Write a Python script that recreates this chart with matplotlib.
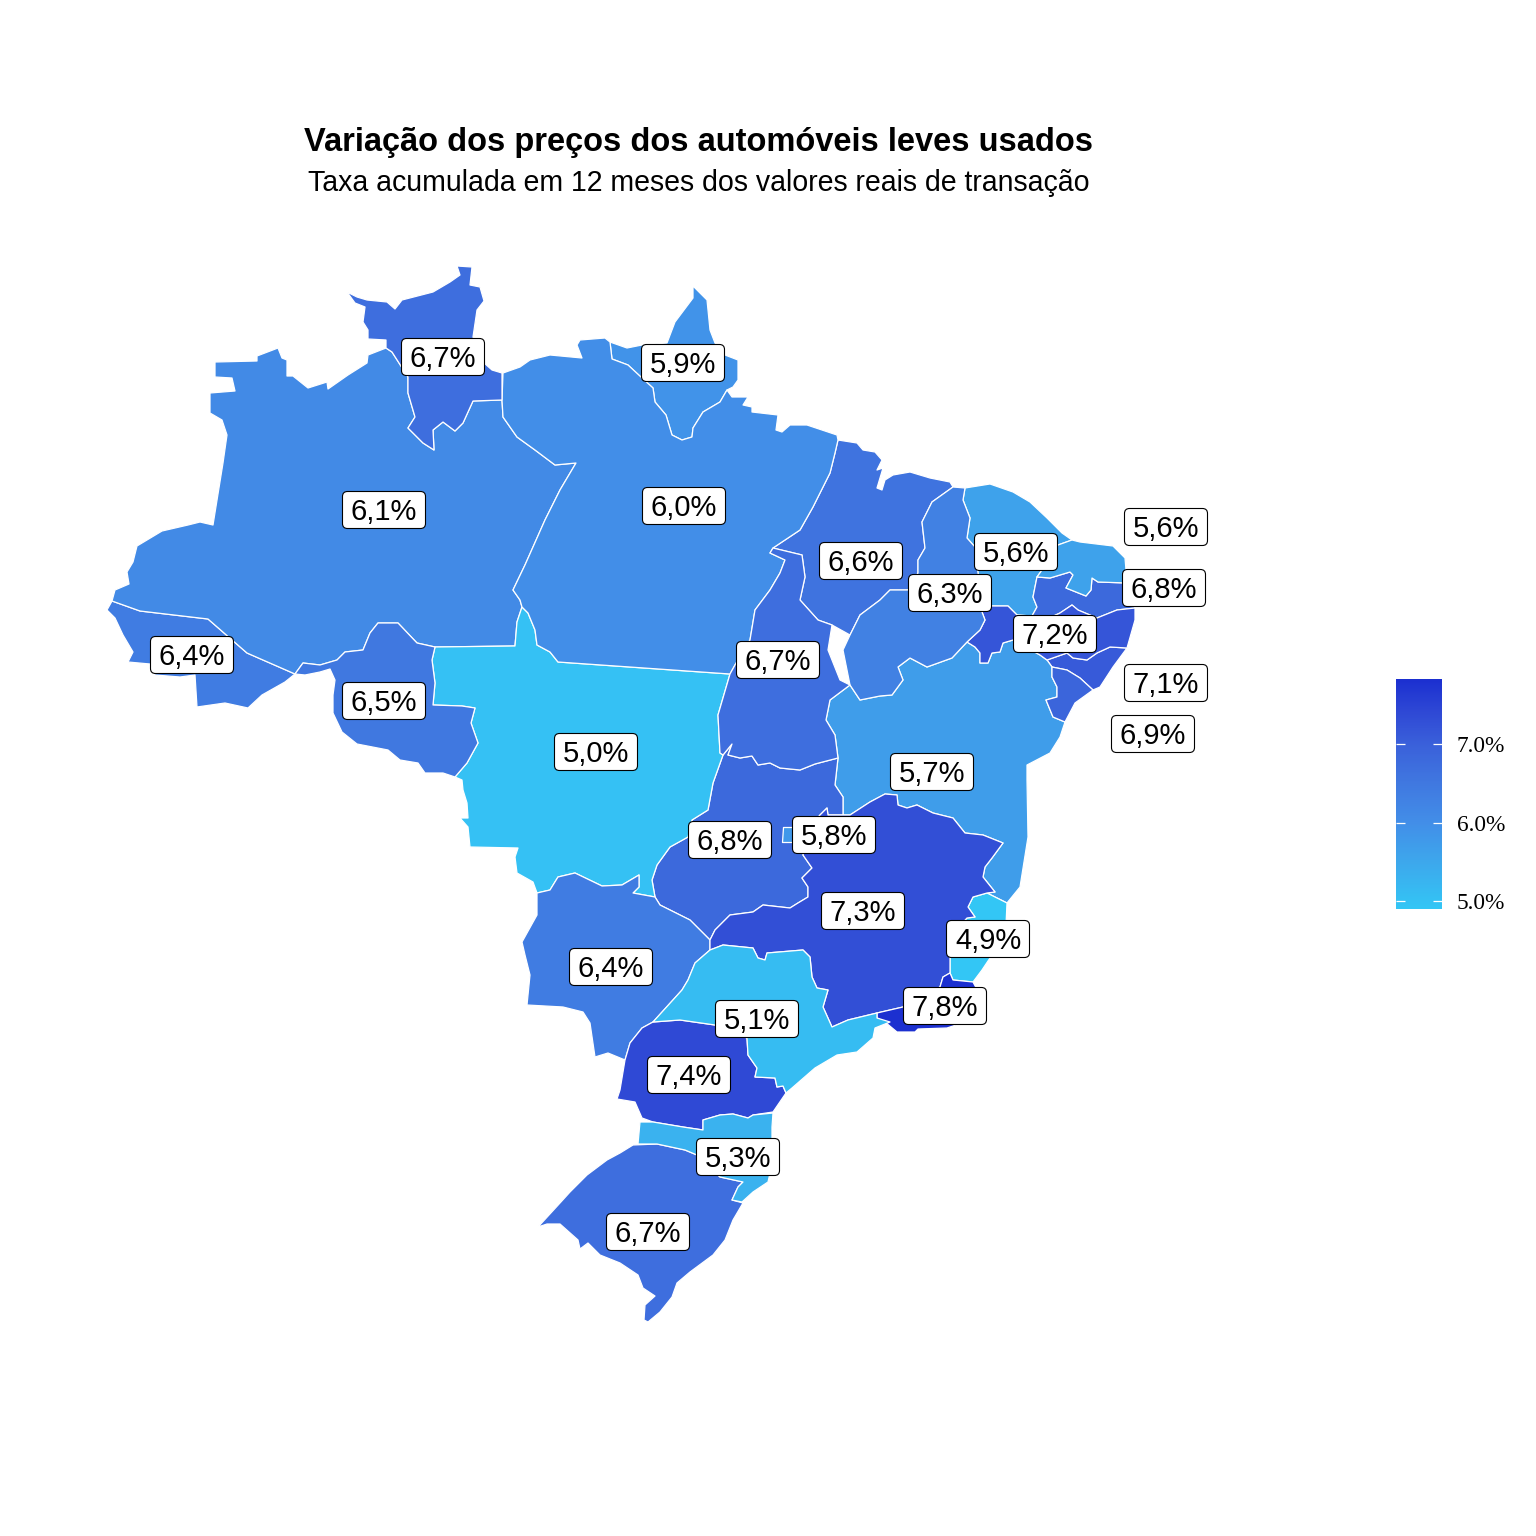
import matplotlib
matplotlib.use('Agg')
import matplotlib.pyplot as plt
from matplotlib.cm import ScalarMappable
from matplotlib.colors import LinearSegmentedColormap, Normalize
from matplotlib.patches import FancyBboxPatch

RR = [(347,292),(357,297),(367,300),(387,302),(395,309),(402,300),(433,292),(450,282),(460,275),(457,266),(472,267),(470,285),(480,287),(484,301),(477,310),(473,337),(483,362),(492,370),(502,373),(502,400),(473,401),(463,423),(455,431),(443,422),(433,430),(434,450),(423,443),(408,428),(415,417),(408,393),(408,377),(392,352),(386,348),(386,340),(368,339),(368,330),(363,322),(365,307),(355,303)]
AM = [(215,362),(257,361),(257,356),(278,348),(282,358),(287,360),(287,376),(293,376),(308,388),(327,382),(328,389),(348,375),(367,363),(368,355),(386,348),(392,352),(408,377),(408,393),(415,417),(408,428),(423,443),(434,450),(433,430),(443,422),(455,431),(463,423),(473,401),(502,400),(503,417),(517,437),(535,450),(555,465),(576,463),(560,490),(545,520),(525,565),(513,590),(520,600),(522,607),(517,622),(515,646),(435,647),(417,643),(398,623),(378,623),(370,633),(363,650),(345,652),(337,660),(320,665),(303,663),(295,674),(247,653),(208,619),(140,611),(112,601),(115,590),(129,584),(127,572),(133,562),(137,546),(162,531),(188,525),(200,522),(213,525),(223,463),(227,435),(222,420),(210,413),(210,393),(235,391),(232,378),(215,377)]
AC = [(107,610),(112,601),(140,611),(208,619),(247,653),(295,674),(285,682),(262,695),(248,708),(225,703),(197,707),(195,675),(180,677),(155,675),(150,664),(128,662),(133,652),(123,635),(115,618)]
RO = [(295,674),(303,663),(320,665),(337,660),(345,652),(363,650),(370,633),(378,623),(398,623),(417,643),(435,647),(432,660),(435,683),(433,705),(462,706),(475,708),(471,723),(478,743),(467,763),(455,777),(443,773),(425,773),(418,763),(400,760),(388,750),(357,744),(342,732),(333,713),(333,695),(335,680),(330,669),(320,672),(305,675)]
MT = [(435,647),(515,646),(517,622),(522,607),(528,613),(535,630),(537,645),(550,652),(558,662),(730,674),(718,715),(720,753),(723,755),(713,783),(708,810),(692,820),(688,837),(670,847),(657,865),(652,880),(655,897),(633,893),(639,887),(639,875),(622,885),(602,886),(575,873),(558,877),(550,890),(537,893),(533,882),(517,873),(515,857),(518,848),(470,847),(468,827),(460,818),(468,818),(467,803),(463,790),(462,780),(455,777),(467,763),(478,743),(471,723),(475,708),(462,706),(433,705),(435,683),(432,660)]
PA = [(503,373),(520,367),(530,360),(550,355),(582,358),(577,345),(580,340),(605,338),(610,342),(612,359),(628,365),(642,378),(653,388),(655,402),(666,415),(672,435),(682,440),(692,437),(693,428),(703,412),(720,402),(727,390),(732,397),(748,397),(743,405),(752,407),(752,412),(778,415),(776,430),(782,432),(790,425),(807,425),(837,435),(838,440),(835,453),(830,473),(823,487),(813,507),(800,530),(773,548),(770,553),(785,560),(780,573),(770,590),(755,610),(750,640),(735,665),(730,674),(558,662),(550,652),(537,645),(535,630),(528,613),(522,607),(520,600),(513,590),(525,565),(545,520),(560,490),(576,463),(555,465),(535,450),(517,437),(503,417),(502,400)]
AP = [(610,342),(627,348),(642,345),(667,343),(675,322),(693,298),(693,286),(707,300),(710,330),(715,343),(725,355),(738,360),(738,380),(733,387),(727,390),(720,402),(703,412),(693,428),(692,437),(682,440),(672,435),(666,415),(655,402),(653,388),(642,378),(628,365),(612,359)]
MA = [(838,440),(857,443),(863,450),(875,452),(882,460),(877,470),(883,468),(877,488),(882,490),(885,480),(893,475),(910,472),(930,478),(950,482),(953,487),(932,502),(922,522),(925,548),(918,560),(918,573),(908,590),(890,590),(880,600),(860,615),(850,635),(832,625),(818,620),(800,600),(805,577),(802,555),(773,548),(800,530),(813,507),(823,487),(830,473),(835,453)]
TO = [(773,548),(802,555),(805,577),(800,600),(818,620),(832,625),(828,650),(840,680),(850,685),(830,700),(826,720),(835,735),(838,758),(815,764),(800,770),(780,768),(770,763),(758,765),(752,756),(740,758),(728,755),(732,744),(723,755),(720,753),(718,715),(730,674),(735,665),(750,640),(755,610),(770,590),(780,573),(785,560),(770,553)]
GO = [(732,744),(728,755),(740,758),(752,756),(758,765),(770,763),(780,768),(800,770),(815,764),(838,758),(835,785),(843,797),(843,815),(828,815),(827,808),(820,815),(812,825),(803,855),(812,868),(802,878),(808,887),(808,897),(798,903),(790,908),(763,905),(753,912),(730,915),(715,930),(710,940),(690,920),(660,905),(655,897),(652,880),(657,865),(670,847),(688,837),(692,820),(708,810),(713,783),(723,755)]
PI = [(953,487),(965,488),(963,500),(970,518),(967,538),(975,547),(980,590),(985,606),(982,612),(985,620),(980,630),(967,642),(952,658),(927,667),(910,658),(898,667),(903,680),(892,695),(880,696),(860,700),(850,685),(843,650),(850,635),(860,615),(880,600),(890,590),(908,590),(918,573),(918,560),(925,548),(922,522),(932,502)]
CE = [(965,488),(990,484),(1013,492),(1030,502),(1047,518),(1062,533),(1072,540),(1058,545),(1042,570),(1037,577),(1033,597),(1037,607),(1032,616),(1017,615),(1008,606),(993,606),(985,606),(980,590),(975,547),(967,538),(970,518),(963,500)]
RN = [(1072,540),(1080,542),(1113,546),(1125,558),(1126,570),(1127,583),(1098,582),(1092,578),(1091,590),(1086,596),(1076,592),(1066,588),(1073,575),(1070,572),(1050,578),(1037,577),(1042,570),(1058,545)]
PB = [(1037,577),(1050,578),(1070,572),(1073,575),(1066,588),(1076,592),(1086,596),(1091,590),(1092,578),(1098,582),(1127,583),(1135,608),(1117,610),(1097,618),(1078,610),(1072,605),(1060,613),(1045,620),(1032,616),(1037,607),(1033,597)]
PE = [(982,612),(985,606),(993,606),(1008,606),(1017,615),(1032,616),(1045,620),(1060,613),(1072,605),(1078,610),(1097,618),(1117,610),(1135,608),(1135,620),(1127,648),(1110,647),(1097,653),(1087,660),(1073,658),(1067,653),(1047,660),(1040,655),(1013,640),(1003,643),(1000,652),(992,653),(988,663),(980,663),(980,653),(975,647),(967,642),(980,630),(985,620)]
AL = [(1047,660),(1067,653),(1073,658),(1087,660),(1097,653),(1110,647),(1127,648),(1113,667),(1100,687),(1093,690),(1080,678),(1067,670),(1052,667)]
SE = [(1052,667),(1067,670),(1080,678),(1093,690),(1075,703),(1065,722),(1053,717),(1046,700),(1057,697),(1057,687),(1052,677)]
BA = [(967,642),(975,647),(980,653),(980,663),(988,663),(992,653),(1000,652),(1003,643),(1013,640),(1040,655),(1047,660),(1052,667),(1052,677),(1057,687),(1057,697),(1046,700),(1053,717),(1065,722),(1060,737),(1050,753),(1027,765),(1027,780),(1028,837),(1020,887),(1007,903),(987,893),(995,892),(983,877),(985,867),(992,858),(1003,843),(983,835),(965,833),(953,818),(933,813),(917,805),(907,808),(898,805),(897,795),(885,794),(870,802),(850,815),(843,815),(843,797),(835,785),(838,758),(835,735),(826,720),(830,700),(850,685),(860,700),(880,696),(892,695),(903,680),(898,667),(910,658),(927,667),(952,658)]
MG = [(850,815),(870,802),(885,794),(897,795),(898,805),(907,808),(917,805),(933,813),(953,818),(965,833),(983,835),(1003,843),(992,858),(985,867),(983,877),(995,892),(987,893),(973,897),(968,907),(975,917),(967,918),(947,940),(950,958),(950,973),(943,977),(940,987),(903,1007),(877,1013),(848,1020),(832,1027),(823,1007),(828,990),(817,988),(812,977),(810,957),(803,950),(767,953),(765,960),(758,958),(753,948),(723,945),(710,950),(710,940),(715,930),(730,915),(753,912),(763,905),(790,908),(798,903),(808,897),(808,887),(802,878),(812,868),(803,855),(812,825),(820,815),(827,808),(828,815),(843,815)]
ES = [(973,897),(987,893),(1007,903),(1006,925),(998,945),(990,958),(982,970),(973,982),(953,980),(950,973),(950,958),(947,940),(967,918),(975,917),(968,907)]
RJ = [(877,1013),(903,1007),(940,987),(943,977),(950,973),(953,980),(973,982),(980,995),(975,1010),(965,1022),(947,1028),(918,1029),(915,1032),(897,1032),(885,1022),(877,1018)]
SP = [(710,950),(723,945),(753,948),(758,958),(765,960),(767,953),(803,950),(810,957),(812,977),(817,988),(828,990),(823,1007),(832,1027),(848,1020),(877,1013),(877,1018),(890,1022),(875,1028),(873,1038),(857,1052),(837,1055),(815,1068),(792,1088),(786,1093),(783,1086),(777,1087),(775,1078),(755,1077),(757,1068),(748,1055),(747,1038),(715,1025),(680,1020),(653,1022),(682,990),(688,980),(695,963)]
MS = [(537,893),(550,890),(558,877),(575,873),(602,886),(622,885),(639,875),(639,887),(633,893),(655,897),(660,905),(690,920),(710,940),(710,950),(695,963),(688,980),(682,990),(653,1022),(642,1028),(630,1043),(625,1060),(608,1053),(595,1057),(590,1023),(583,1012),(563,1007),(527,1005),(530,975),(525,955),(522,942),(537,915)]
PR = [(653,1022),(680,1020),(715,1025),(747,1038),(748,1055),(757,1068),(755,1077),(775,1078),(777,1087),(783,1086),(786,1093),(773,1112),(753,1115),(748,1118),(733,1114),(720,1115),(703,1120),(703,1130),(683,1127),(653,1122),(642,1118),(635,1102),(617,1099),(620,1090),(625,1060),(630,1043),(642,1028)]
SC = [(640,1122),(653,1122),(683,1127),(703,1130),(703,1120),(720,1115),(733,1114),(748,1118),(753,1115),(773,1113),(772,1127),(772,1138),(773,1160),(768,1182),(753,1192),(742,1202),(732,1200),(738,1187),(743,1182),(720,1177),(697,1155),(685,1150),(657,1144),(638,1144),(639,1133)]
RS = [(633,1145),(657,1144),(685,1150),(697,1155),(720,1177),(743,1182),(738,1187),(732,1200),(743,1203),(733,1220),(725,1240),(713,1255),(690,1272),(677,1283),(672,1297),(660,1312),(648,1322),(644,1320),(645,1305),(655,1296),(643,1288),(638,1275),(620,1263),(600,1255),(588,1243),(580,1249),(578,1240),(560,1224),(547,1224),(538,1227),(560,1203),(570,1192),(587,1175),(607,1160),(620,1153)]
DF = [(783,827),(805,827),(805,842),(782,842)]

states = [AC, AL, AP, AM, BA, CE, ES, GO, MA, MT, MS, MG, PA, PB, PR, PE, PI, RJ, RN, RS, RO, RR, SC, SP, SE, TO, DF]
values = [6.4, 7.1, 5.9, 6.1, 5.7, 5.6, 4.9, 6.8, 6.6, 5.0, 6.4, 7.3, 6.0, 6.8, 7.4, 7.2, 6.3, 7.8, 5.6, 6.7, 6.5, 6.7, 5.3, 5.1, 6.9, 6.7, 5.8]
label_pos = [(192,655),(1166,683),(683,363),(384,510),(932,772),(1016,552),(988,939),(730,840),(861,561),(596,752),(611,967),(863,911),(684,506),(1164,588),(689,1075),(1055,634),(950,593),(945,1006),(1166,527),(648,1232),(384,701),(443,357),(738,1157),(757,1019),(1153,734),(778,660),(834,835)]

colorbar_ticks = [5.0, 6.0, 7.0]
colorbar_labels = ['5.0%', '6.0%', '7.0%']
title = 'Variação dos preços dos automóveis leves usados'
subtitle = 'Taxa acumulada em 12 meses dos valores reais de transação'

vmin, vmax = 4.9, 7.83
stops = [(4.9, '#33C6F5'), (5.5, '#3DA7EC'), (6.0, '#428EE8'), (6.5, '#4078E0'),
         (7.0, '#3A60DA'), (7.4, '#2F49D5'), (7.83, '#1B2FD0')]
cmap = LinearSegmentedColormap.from_list('precos', [((v - vmin) / (vmax - vmin), c) for v, c in stops])
norm = Normalize(vmin, vmax)

plt.rcParams['font.family'] = ['Liberation Sans', 'DejaVu Sans']

fig = plt.figure(figsize=(15.36, 15.36), dpi=100)
ax = fig.add_axes([0, 0, 1, 1])
ax.set_xlim(0, 1536)
ax.set_ylim(1536, 0)
ax.axis('off')

# the map
for outline, value in zip(states, values):
    xs, ys = zip(*outline)
    ax.fill(xs, ys, facecolor=cmap(norm(value)), edgecolor='white', linewidth=0.9, joinstyle='round')

# value labels, a fixed size box behind each number
box_w, box_h = 83, 37
for (x, y), value in zip(label_pos, values):
    ax.add_patch(FancyBboxPatch((x - box_w / 2, y - box_h / 2), box_w, box_h, boxstyle='round,pad=0,rounding_size=5',
                                facecolor='white', edgecolor='black', linewidth=0.8, zorder=3))
    ax.text(x, y + 2, f'{value:.1f}%'.replace('.', ','), ha='center', va='center', fontsize=21, color='black', zorder=4)

ax.text(699, 142, title, ha='center', va='center', fontsize=23.5, fontweight='bold')
ax.text(699, 183, subtitle, ha='center', va='center', fontsize=20.55)

# colour bar on the right
cax = fig.add_axes([1396 / 1536, 1 - 909 / 1536, 46 / 1536, 230 / 1536])
cbar = fig.colorbar(ScalarMappable(norm=norm, cmap=cmap), cax=cax)
cbar.outline.set_visible(False)
cbar.set_ticks(colorbar_ticks, labels=colorbar_labels)
cax.tick_params(length=0, pad=10.5)
for label in cax.get_yticklabels():
    label.set_fontfamily('Liberation Serif')
    label.set_fontsize(16.8)
cax.hlines(colorbar_ticks, 0, 0.2, color='white', linewidth=0.9)
cax.hlines(colorbar_ticks, 0.8, 1, color='white', linewidth=0.9)
cax.set_xlim(0, 1)

fig.savefig('out.png', dpi=100, facecolor='white')
